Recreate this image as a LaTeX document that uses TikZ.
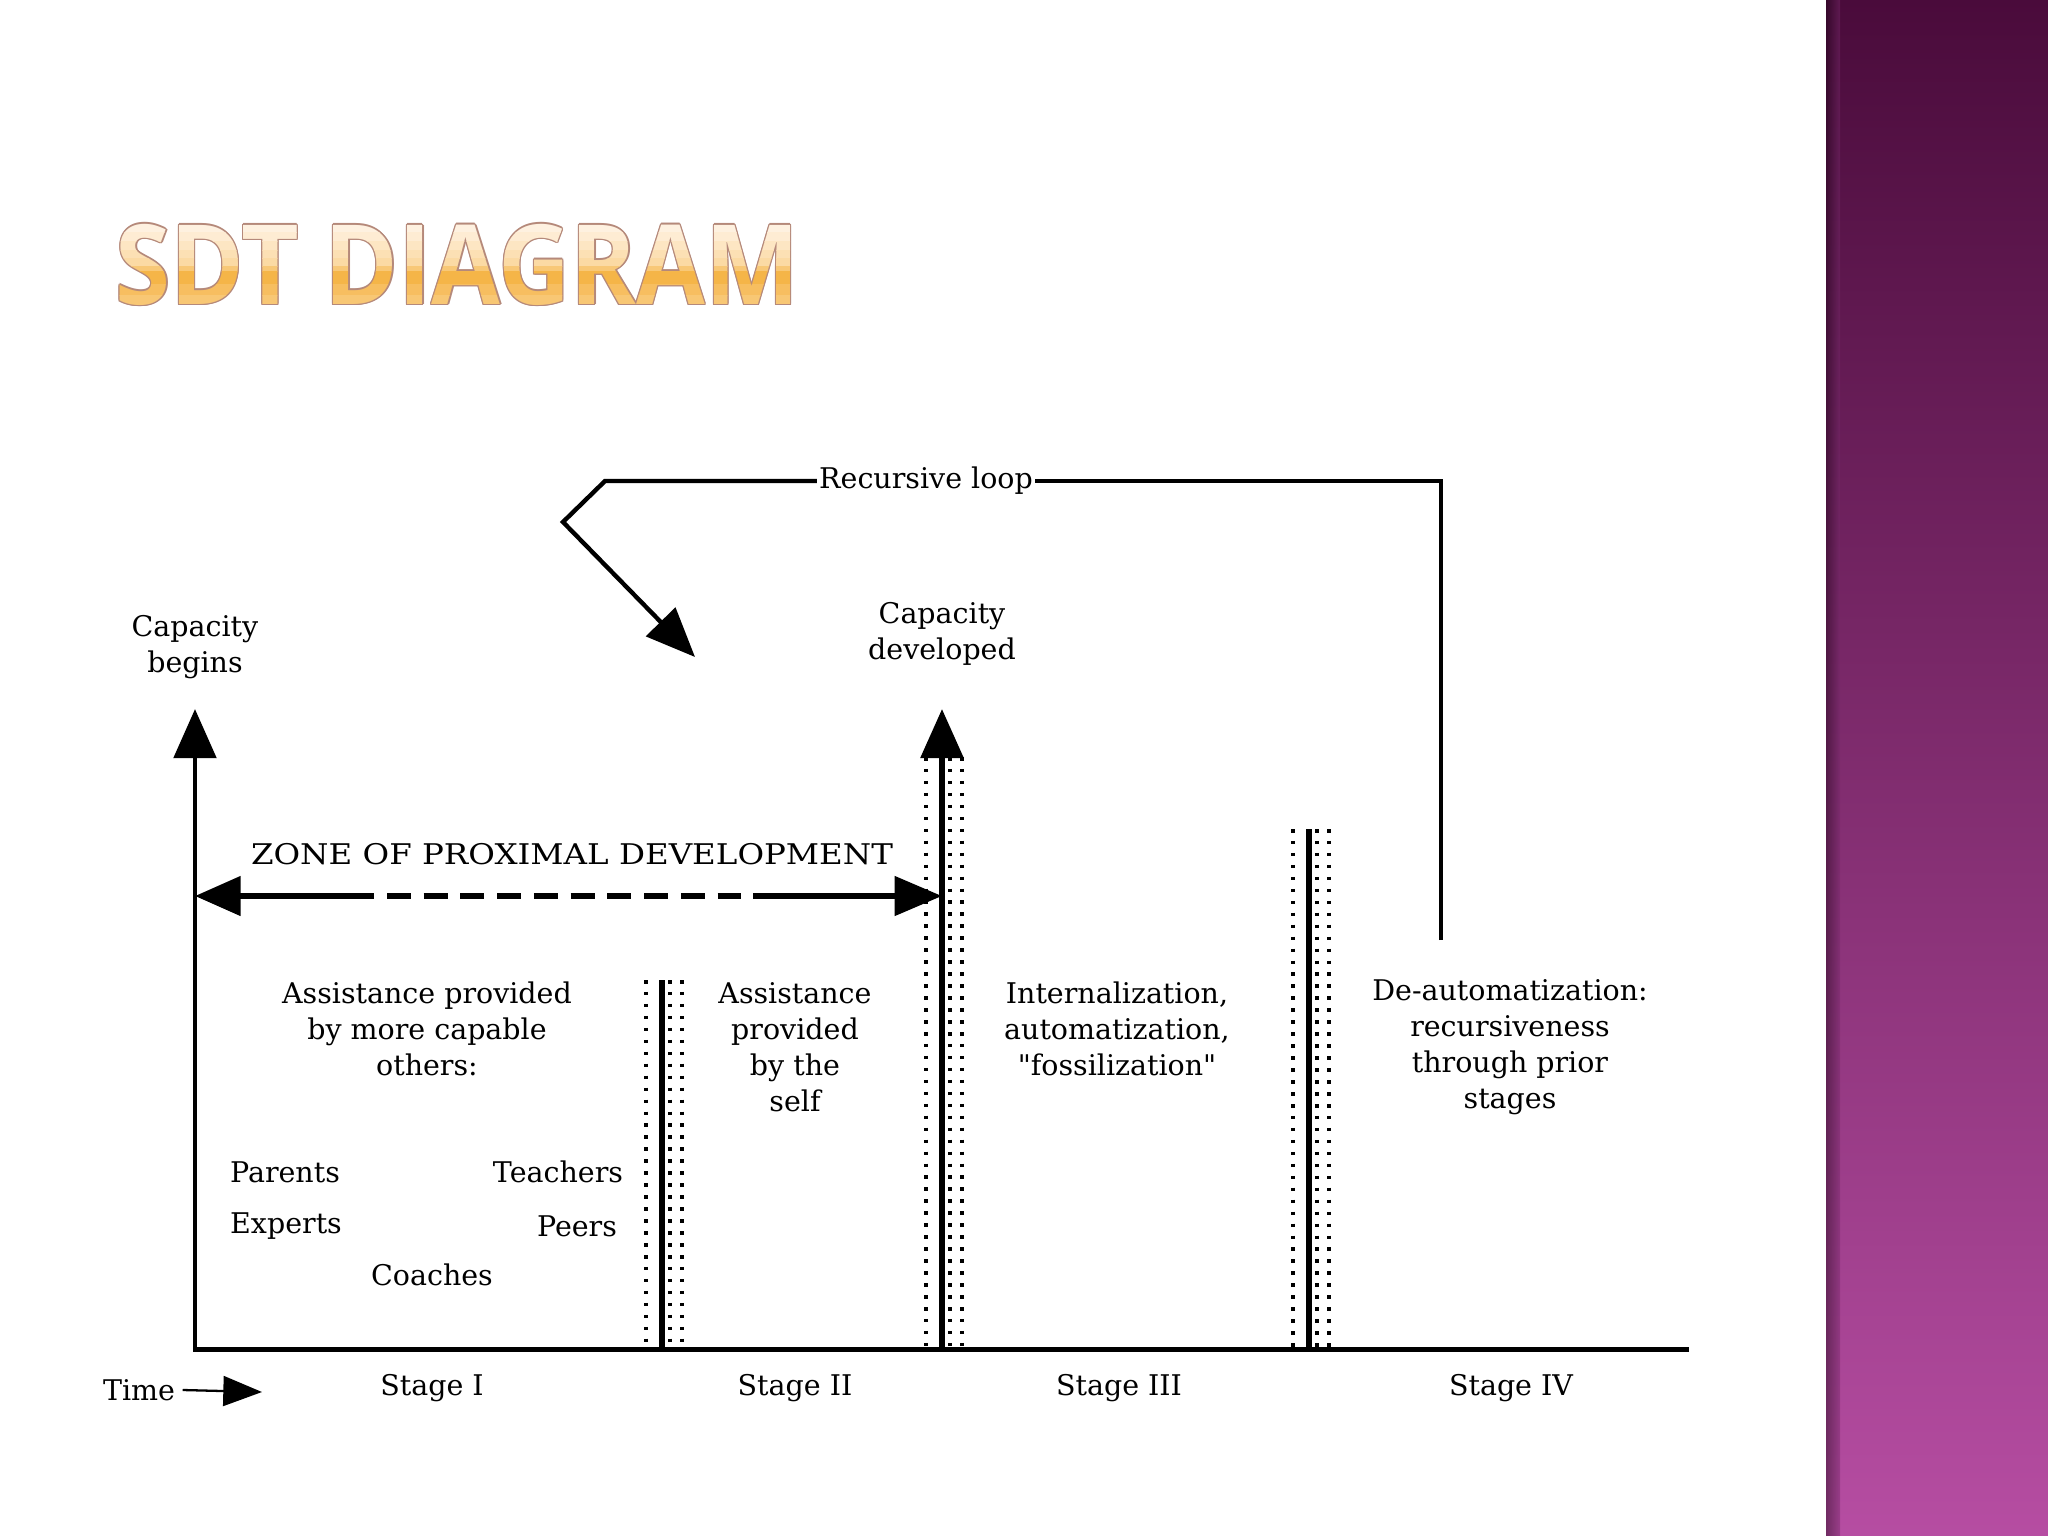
\documentclass[tikz,border=0pt]{standalone}
\usepackage{fontspec}
\newfontfamily\diagfont{DejaVu Serif}
\newfontfamily\titlefont[FakeStretch=0.9]{Open Sans}
\usepackage{tikz}
\usetikzlibrary{arrows.meta, positioning, calc}
\definecolor{titleorange}{HTML}{F5B548}
\definecolor{titlecream}{HTML}{FFF4E6}
\definecolor{titleedge}{HTML}{B5897A}
\definecolor{purpletop}{HTML}{4A0B3B}
\definecolor{purplemid}{HTML}{792C6D}
\definecolor{purplebot}{HTML}{B64DA2}

\begin{document}
\begin{tikzpicture}[
    x=0.01cm, y=-0.01cm,
    lbl/.style={font=\diagfont\fontsize{8.1}{10.2}\selectfont, align=center,
        inner sep=1pt},
    titletext/.style={font=\titlefont\bfseries\fontsize{31.5}{36}\selectfont,
        anchor=base west, inner sep=0},
    axis/.style={line width=1.42pt, black},
    divider/.style={line width=1.7pt, black},
    dotline/.style={line width=1pt, dash pattern=on 1pt off 2.4pt},
    zpdline/.style={line width=1.7pt, black},
    arrhead/.style={-{Triangle[length=14pt, width=12pt]}},
    loopline/.style={line width=1.25pt, line join=miter}
]
\useasboundingbox (0,0) rectangle (2048,1536);
\fill[white] (0,0) rectangle (2048,1536);

\shade[top color=purpletop, middle color=purplemid, bottom color=purplebot]
    (1826,0) rectangle (2048,1536);
\shade[left color=black!60!purpletop, right color=purplemid, opacity=0.45]
    (1826,0) rectangle (1840,1536);

\foreach \dx/\dy in {-1.3/0, 1.3/0, 0/-1.3, 0/1.3, -1/-1, 1/1, -1/1, 1/-1}
    \node[titletext, text=titleedge] at (115+\dx,304+\dy) {SDT DIAGRAM};
\foreach \ya/\yb/\pct in {200/232/4, 232/241/12, 241/250/22, 250/258/32,
        258/266/42, 266/271/70, 271/284/100, 284/295/85, 295/330/72} {
    \begin{scope}
        \clip (100,\ya) rectangle (820,\yb);
        \node[titletext, text=titleorange!\pct!titlecream] (title) at (115,304)
            {SDT DIAGRAM};
    \end{scope}
}

\node[lbl] (capbeg) at (195,647) {Capacity\\begins};
\node[lbl] (capdev) at (942,634) {Capacity\\developed};
\node[lbl] (zpd) at (572,854) {\scalebox{1.14}[1]{ZONE OF PROXIMAL DEVELOPMENT}};
\node[lbl, inner sep=0.5pt] (loop) at (926,481) {Recursive loop};

\node[lbl] (others) at (427,1029) {Assistance provided\\by more capable\\others:};
\node[lbl] (self) at (795,1047) {Assistance\\provided\\by the\\self};
\node[lbl] (intern) at (1117,1029) {Internalization,\\automatization,\\"fossilization"};
\node[lbl] (deauto) at (1510,1047) {De-automatization:\\recursiveness\\through prior\\stages};

\node[lbl] (parents) at (285,1172) {Parents};
\node[lbl] (teachers) at (558,1172) {Teachers};
\node[lbl] (experts) at (286,1226) {Experts};
\node[lbl] (peers) at (577,1226) {Peers};
\node[lbl] (coaches) at (432,1275) {Coaches};

\node[lbl, inner sep=2pt] (time) at (139,1390) {Time};
\node[lbl] (st1) at (432,1388) {Stage I};
\node[lbl] (st2) at (795,1388) {Stage II};
\node[lbl] (st3) at (1119,1388) {Stage III};
\node[lbl] (st4) at (1511,1388) {Stage IV};

\coordinate (orig) at (195,1349);
\coordinate (xend) at (1689,1349);
\coordinate (ytop) at (195,709);
\coordinate (devtop) at (942,709);
\coordinate (devbot) at (942,1349);
\coordinate (zl) at (195,896);
\coordinate (zdl) at (374,896);
\coordinate (zdr) at (753,896);
\coordinate (zr) at (942,896);
\coordinate (lbot) at (1441,940);
\coordinate (lk1) at (605,481);
\coordinate (lk2) at (563,522);
\coordinate (ltip) at (695,657);
\coordinate (ttip) at (262,1392);

\foreach \x/\top in {662/980, 942/757, 1309/829} {
    \draw[dotline] (\x-16,\top) -- (\x-16,1349);
    \draw[dotline] (\x+8,\top) -- (\x+8,1349);
    \draw[dotline] (\x+20,\top) -- (\x+20,1349);
}
\draw[divider] (662,980) -- (662,1349);
\draw[divider] (1309,829) -- (1309,1349);
\draw[divider, arrhead] (devbot) -- (devtop);

\draw[axis, arrhead, line join=miter] (xend) -- (orig) -- (ytop);

\draw[zpdline, {Triangle[length=13pt, width=11pt]}-] (zl) -- (zdl);
\draw[zpdline, dash pattern=on 0.24cm off 0.127cm]
    ([xshift=0.13cm]zdl) -- ([xshift=-0.12cm]zdr);
\draw[zpdline, -{Triangle[length=13.5pt, width=11pt]}] (zdr) -- (zr);

\draw[loopline] (lbot) |- (loop.east);
\draw[loopline, -{Triangle[length=14pt, width=11.5pt]}]
    (loop.west) -- (lk1) -- (lk2) -- (ltip);

\draw[line width=0.65pt, -{Triangle[length=11pt, width=8.5pt]}] (time.east) -- (ttip);
\end{tikzpicture}
\end{document}
